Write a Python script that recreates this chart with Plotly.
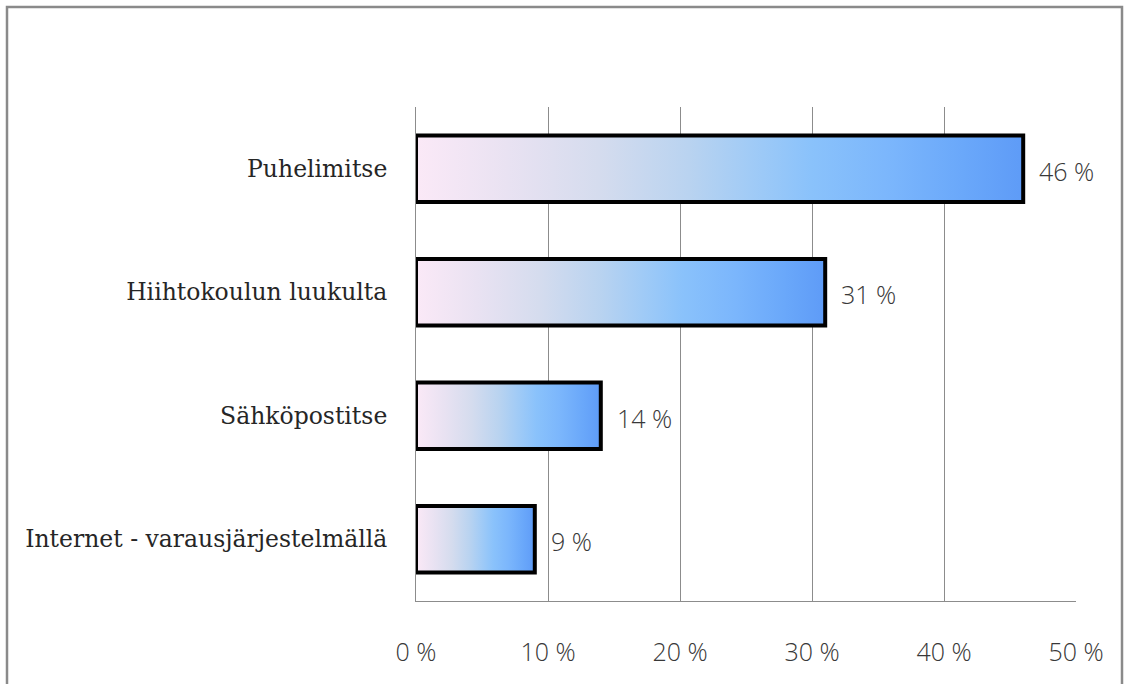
import plotly.graph_objects as go

# Booking channels and their shares (%)
categories = ["Puhelimitse", "Hiihtokoulun luukulta", "Sähköpostitse", "Internet - varausjärjestelmällä"]
shares = [46, 31, 14, 9]
x_ticks = [0, 10, 20, 30, 40, 50]

W, H = 1126, 684
M = dict(l=416, r=50, t=107, b=83)

bar_half = 0.27
gradient = [
    [0.0, "#fbe9f7"],
    [0.15, "#e9e2f2"],
    [0.3, "#d5dcee"],
    [0.45, "#b9d3f0"],
    [0.55, "#a1cbf6"],
    [0.65, "#8ac2fb"],
    [0.78, "#7bb6fc"],
    [0.9, "#6aa8fa"],
    [1.0, "#5e9bf7"],
]
num_font = dict(family="Open Sans", size=25, color="#383838", weight=300)

fig = go.Figure()
for i, (cat, v) in enumerate(zip(categories, shares)):
    y0, y1 = i - bar_half, i + bar_half
    fig.add_trace(go.Scatter(
        x=[0, v, v, 0, 0],
        y=[y0, y0, y1, y1, y0],
        mode="lines",
        fill="toself",
        fillgradient=dict(type="horizontal", colorscale=gradient, start=0, stop=v),
        line=dict(color="#000000", width=4),
        hoverinfo="skip",
        showlegend=False,
        name=cat,
    ))
    fig.add_annotation(
        x=v, y=i, text=f"{v} %", showarrow=False,
        xanchor="left", yanchor="middle", xshift=14, yshift=-2,
        font=num_font,
    )

# outer chart frame
pw = W - M["l"] - M["r"]
ph = H - M["t"] - M["b"]
def px_to_paper_x(px):
    return (px - M["l"]) / pw
def px_to_paper_y(py):
    return (H - M["b"] - py) / ph

fig.add_shape(
    type="rect", xref="paper", yref="paper",
    x0=px_to_paper_x(7), x1=px_to_paper_x(1122),
    y0=px_to_paper_y(700), y1=px_to_paper_y(7),
    line=dict(color="#8a8a8a", width=2.5), fillcolor="rgba(0,0,0,0)",
    layer="below",
)

fig.update_layout(
    width=W, height=H,
    margin=M,
    paper_bgcolor="white",
    plot_bgcolor="white",
    showlegend=False,
    xaxis=dict(
        range=[0, 50],
        tickvals=x_ticks,
        ticktext=[f"{t} %" for t in x_ticks],
        showgrid=True, gridcolor="#8c8c8c", gridwidth=1,
        showline=True, linecolor="#8c8c8c", linewidth=1,
        zeroline=False, ticks="",
        ticklabelstandoff=29,
        tickfont=num_font,
        fixedrange=True,
    ),
    yaxis=dict(
        range=[len(categories) - 0.5, -0.5],
        tickvals=list(range(len(categories))),
        ticktext=categories,
        showgrid=False,
        showline=True, linecolor="#8c8c8c", linewidth=1,
        zeroline=False, ticks="",
        ticklabelstandoff=23,
        tickfont=dict(family="DejaVu Serif", size=23.5, color="#262626"),
        fixedrange=True,
    ),
)

fig.write_html("out.html")
